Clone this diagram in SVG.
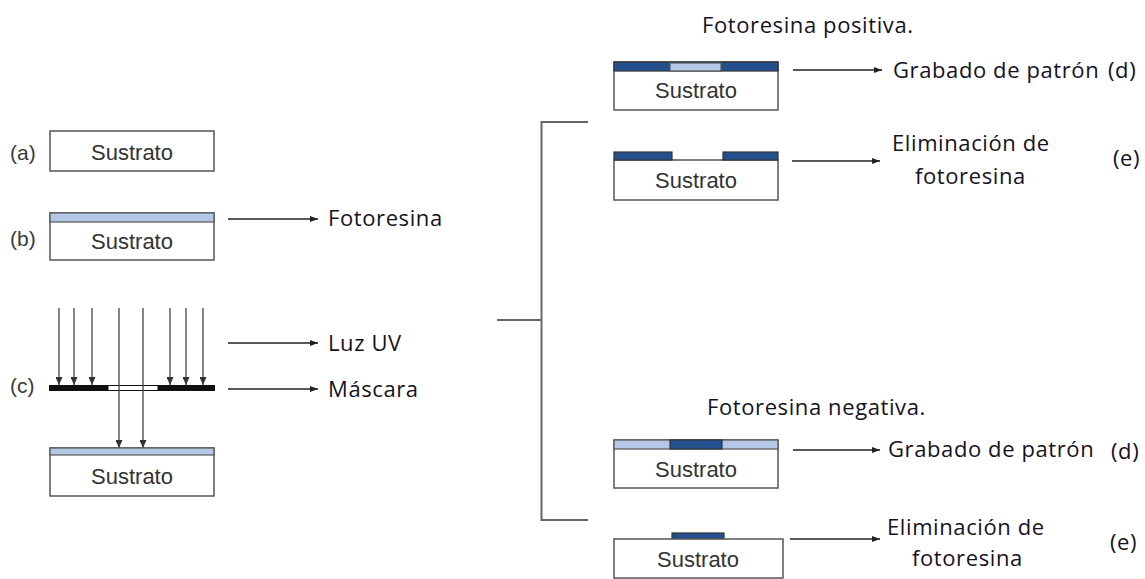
<svg xmlns="http://www.w3.org/2000/svg" width="1145" height="579" viewBox="0 0 1145 579">
<style>
.box{fill:#fff;stroke:#555;stroke-width:1.5}
.lb{fill:#b4c7e7;stroke:#555;stroke-width:1.2}
.db{fill:#24508f;stroke:#333;stroke-width:1.2}
.sus{font-family:"Liberation Sans",Arial,sans-serif;font-size:22px;fill:#333;text-anchor:middle}
.lab{font-family:"Liberation Sans",Arial,sans-serif;font-size:21px;fill:#3a3a3a}
.t{font-family:"Open Sans","Noto Sans",sans-serif;font-size:22px;letter-spacing:0.6px;fill:#15121f}
.c{stroke:#222;stroke-width:1.4;fill:none}
.uv{stroke:#444;stroke-width:1.3;fill:none}
.br{stroke:#666;stroke-width:2;fill:none}
</style>
<defs>
<marker id="ah" markerWidth="8" markerHeight="6" refX="8" refY="3" orient="auto" markerUnits="userSpaceOnUse">
<path d="M0,0 L8,3 L0,6 Z" fill="#222"/>
</marker>
<marker id="ahv" markerWidth="8" markerHeight="7" refX="8" refY="3.5" orient="auto" markerUnits="userSpaceOnUse">
<path d="M0,0 L8,3.5 L0,7 Z" fill="#333"/>
</marker>
</defs>

<g id="step-a">
<text class="lab" x="10" y="160">(a)</text>
<rect class="box" x="50" y="131" width="164" height="40"/>
<text class="sus" x="132" y="160">Sustrato</text>
</g>

<g id="step-b">
<text class="lab" x="10" y="246">(b)</text>
<rect class="box" x="50" y="213" width="164" height="47"/>
<rect class="lb" x="50" y="213" width="164" height="9"/>
<text class="sus" x="132" y="249">Sustrato</text>
</g>

<g id="step-c">
<text class="lab" x="10" y="393">(c)</text>
<rect x="49" y="385" width="166" height="6" fill="#111"/>
<rect x="108" y="385.5" width="50" height="5" fill="#fff" stroke="#111" stroke-width="1"/>
<g class="uv">
<line x1="59" y1="308" x2="59" y2="385" marker-end="url(#ahv)"/>
<line x1="74" y1="308" x2="74" y2="385" marker-end="url(#ahv)"/>
<line x1="92" y1="308" x2="92" y2="385" marker-end="url(#ahv)"/>
<line x1="170" y1="308" x2="170" y2="385" marker-end="url(#ahv)"/>
<line x1="186" y1="308" x2="186" y2="385" marker-end="url(#ahv)"/>
<line x1="203" y1="308" x2="203" y2="385" marker-end="url(#ahv)"/>
<line x1="119" y1="308" x2="119" y2="448" marker-end="url(#ahv)"/>
<line x1="143" y1="308" x2="143" y2="448" marker-end="url(#ahv)"/>
</g>
<rect class="box" x="50" y="448" width="164" height="48"/>
<rect class="lb" x="50" y="448" width="164" height="7"/>
<text class="sus" x="132" y="484">Sustrato</text>
</g>

<g id="title-pos">
<text class="t" x="702" y="33">Fotoresina positiva.</text>
</g>
<g id="pos-d">
<rect class="box" x="614" y="62" width="164" height="48"/>
<rect class="db" x="614" y="62" width="164" height="9"/>
<rect class="lb" x="670" y="63" width="51" height="8" stroke="#333"/>
<text class="sus" x="696" y="98">Sustrato</text>
</g>
<g id="pos-e">
<rect class="box" x="614" y="160" width="164" height="40"/>
<rect class="db" x="614" y="152" width="58" height="8"/>
<rect class="db" x="723" y="152" width="55" height="8"/>
<text class="sus" x="696" y="188">Sustrato</text>
</g>

<g id="title-neg">
<text class="t" x="707" y="415">Fotoresina negativa.</text>
</g>
<g id="neg-d">
<rect class="box" x="614" y="440" width="164" height="48"/>
<rect class="lb" x="614" y="440" width="164" height="9"/>
<rect class="db" x="670" y="440" width="52" height="9"/>
<text class="sus" x="696" y="477">Sustrato</text>
</g>
<g id="neg-e">
<rect class="db" x="672" y="533" width="52" height="6"/>
<rect class="box" x="614" y="539" width="169" height="39"/>
<text class="sus" x="698" y="567">Sustrato</text>
</g>

<g id="labels">
<text class="t" x="328" y="226">Fotoresina</text>
<text class="t" x="328" y="351">Luz UV</text>
<text class="t" x="328" y="397">Máscara</text>
<text class="t" x="893" y="78">Grabado de patrón</text>
<text class="t" x="1108" y="78">(d)</text>
<text class="t" x="892" y="151">Eliminación de</text>
<text class="t" x="915" y="184">fotoresina</text>
<text class="t" x="1113" y="166">(e)</text>
<text class="t" x="888" y="457">Grabado de patrón</text>
<text class="t" x="1111" y="459">(d)</text>
<text class="t" x="887" y="535">Eliminación de</text>
<text class="t" x="912" y="566">fotoresina</text>
<text class="t" x="1110" y="550">(e)</text>
</g>

<g id="connectors">
<line class="c" x1="228" y1="219" x2="318" y2="219" marker-end="url(#ah)"/>
<line class="c" x1="228" y1="343" x2="318" y2="343" marker-end="url(#ah)"/>
<line class="c" x1="228" y1="389" x2="318" y2="389" marker-end="url(#ah)"/>
<line class="c" x1="793" y1="70" x2="882" y2="70" marker-end="url(#ah)"/>
<line class="c" x1="792" y1="161" x2="880" y2="161" marker-end="url(#ah)"/>
<line class="c" x1="793" y1="450" x2="880" y2="450" marker-end="url(#ah)"/>
<line class="c" x1="790" y1="539" x2="880" y2="539" marker-end="url(#ah)"/>
<path class="br" d="M588,122 H541.5 V520 H588"/>
<line class="br" x1="497" y1="320" x2="541.5" y2="320"/>
</g>
</svg>
